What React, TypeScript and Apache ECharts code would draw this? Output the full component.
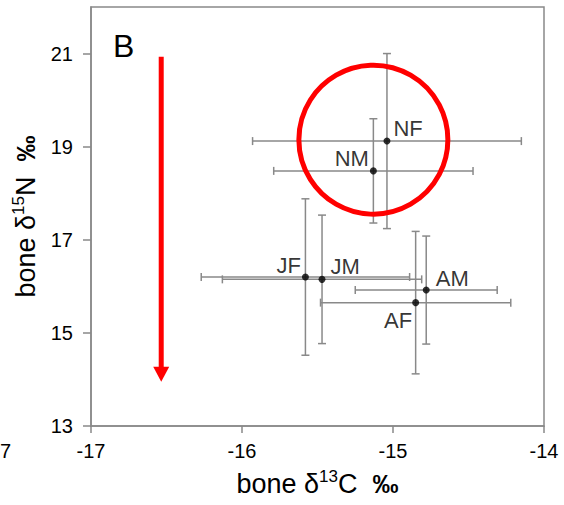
import React, { useEffect, useRef } from "react";
import * as echarts from "echarts";

// ---- data ----
const groupNames = ["NF", "NM", "JF", "JM", "AM", "AF"];
const carbonMean = [-15.04, -15.13, -15.58, -15.47, -14.78, -14.85];
const nitrogenMean = [19.12, 18.48, 16.2, 16.15, 15.92, 15.65];
const carbonSd = [0.89, 0.66, 0.69, 0.66, 0.47, 0.63];
const nitrogenSd = [1.88, 1.12, 1.68, 1.38, 1.16, 1.53];

const xTicks = [-17, -16, -15, -14];
const yTicks = [13, 15, 17, 19, 21];

// annotation anchors (data coords)
const highlightCenter = [-15.13, 19.15];
const arrowX = [-16.535];
const arrowFromTo = [20.93, 13.95];

// label placement per group (presentation only)
const labelPlacement: Record<string, { position: string; offset: number[] }> = {
  NF: { position: "right", offset: [-2, -13] },
  NM: { position: "left", offset: [4, -12] },
  JF: { position: "left", offset: [4, -12] },
  JM: { position: "right", offset: [0, -13] },
  AM: { position: "right", offset: [1, -12] },
  AF: { position: "left", offset: [5, 18] },
};

const FONT = "'Liberation Sans', Arial, sans-serif";
const GREY = "#898989";

export default function App() {
  const ref = useRef<HTMLDivElement>(null);

  useEffect(() => {
    if (!ref.current) return;
    const chart = echarts.init(ref.current, undefined, { renderer: "svg" });

    const errData = groupNames.map((n, i) => [carbonMean[i], nitrogenMean[i], carbonSd[i], nitrogenSd[i]]);
    const pointData = groupNames.map((n, i) => ({
      name: n,
      value: [carbonMean[i], nitrogenMean[i]],
      label: {
        show: true,
        formatter: n,
        position: labelPlacement[n].position,
        offset: labelPlacement[n].offset,
      },
    }));

    const titleRich = () => ({
      a: { fontSize: 27, fontFamily: FONT, color: "#000", lineHeight: 32 },
      s: { fontSize: 17, fontFamily: FONT, color: "#000", lineHeight: 25, verticalAlign: "top" },
      b: { fontSize: 26, fontFamily: FONT, color: "#000", fontWeight: "bold", lineHeight: 32 },
    });

    const option: any = {
      animation: false,
      backgroundColor: "#fff",
      grid: {
        left: 91,
        right: 20,
        top: 7,
        bottom: 79,
        show: true,
        borderColor: GREY,
        borderWidth: 1.5,
        containLabel: false,
      },
      xAxis: {
        type: "value",
        min: -17,
        max: -14,
        interval: 1,
        splitLine: { show: false },
        axisLine: { show: true, lineStyle: { color: GREY, width: 1.5 } },
        axisTick: { show: true, length: 7, lineStyle: { color: GREY, width: 1.5 }, customValues: xTicks },
        axisLabel: {
          customValues: xTicks,
          color: "#000",
          fontSize: 20,
          fontFamily: FONT,
          margin: 15,
        },
        name: "{a|bone δ}{s|13}{a|C  }{b|‰}",
        nameLocation: "middle",
        nameGap: 42,
        nameTextStyle: { rich: titleRich() },
      },
      yAxis: {
        type: "value",
        min: 13,
        max: 22,
        interval: 1,
        splitLine: { show: false },
        axisLine: { show: true, lineStyle: { color: GREY, width: 1.5 } },
        axisTick: { show: true, length: 8, lineStyle: { color: GREY, width: 1.5 }, customValues: yTicks },
        axisLabel: {
          customValues: yTicks,
          color: "#000",
          fontSize: 20,
          fontFamily: FONT,
          margin: 18,
        },
        name: "{a|bone δ}{s|15}{a|N  }{b|‰}",
        nameLocation: "middle",
        nameRotate: 90,
        nameGap: 33,
        nameTextStyle: { rich: titleRich() },
      },
      graphic: [
        {
          type: "text",
          left: 113,
          top: 30,
          style: { text: "B", fontSize: 32, fontFamily: FONT, fill: "#000" },
        },
        {
          type: "text",
          x: 0,
          y: 451,
          style: { text: "7", fontSize: 20, fontFamily: FONT, fill: "#000", align: "left", verticalAlign: "middle" },
        },
      ],
      series: [
        {
          type: "custom",
          name: "sd",
          z: 1,
          data: errData,
          encode: { x: 0, y: 1 },
          renderItem: (params: any, api: any) => {
            const x = api.value(0);
            const y = api.value(1);
            const ex = api.value(2);
            const ey = api.value(3);
            const l = api.coord([x - ex, y]);
            const r = api.coord([x + ex, y]);
            const t = api.coord([x, y + ey]);
            const b = api.coord([x, y - ey]);
            const c = 4;
            const style = { stroke: GREY, lineWidth: 1.5 };
            const ln = (x1: number, y1: number, x2: number, y2: number) => ({
              type: "line",
              shape: { x1, y1, x2, y2 },
              style,
            });
            return {
              type: "group",
              children: [
                ln(l[0], l[1], r[0], r[1]),
                ln(l[0], l[1] - c, l[0], l[1] + c),
                ln(r[0], r[1] - c, r[0], r[1] + c),
                ln(t[0], t[1], b[0], b[1]),
                ln(t[0] - c, t[1], t[0] + c, t[1]),
                ln(b[0] - c, b[1], b[0] + c, b[1]),
              ],
            };
          },
        },
        {
          type: "custom",
          name: "highlight",
          z: 2,
          data: [highlightCenter],
          encode: { x: 0, y: 1 },
          renderItem: (params: any, api: any) => {
            const p = api.coord([api.value(0), api.value(1)]);
            return {
              type: "circle",
              shape: { cx: p[0], cy: p[1], r: 74.5 },
              style: { fill: "none", stroke: "#ff0000", lineWidth: 5 },
            };
          },
        },
        {
          type: "custom",
          name: "arrow",
          z: 2,
          data: [[arrowX[0], arrowFromTo[0], arrowFromTo[1]]],
          encode: { x: 0, y: [1, 2] },
          renderItem: (params: any, api: any) => {
            const p1 = api.coord([api.value(0), api.value(1)]);
            const p2 = api.coord([api.value(0), api.value(2)]);
            const hh = 15;
            const hw = 8;
            return {
              type: "group",
              children: [
                {
                  type: "line",
                  shape: { x1: p1[0], y1: p1[1], x2: p2[0], y2: p2[1] - hh + 1 },
                  style: { stroke: "#ff0000", lineWidth: 5 },
                },
                {
                  type: "polygon",
                  shape: {
                    points: [
                      [p2[0] - hw, p2[1] - hh],
                      [p2[0] + hw, p2[1] - hh],
                      [p2[0], p2[1]],
                    ],
                  },
                  style: { fill: "#ff0000" },
                },
              ],
            };
          },
        },
        {
          type: "scatter",
          name: "groups",
          z: 3,
          symbol: "circle",
          symbolSize: 7,
          itemStyle: { color: "#000" },
          label: { color: "#000", fontSize: 22, fontFamily: FONT },
          data: pointData,
        },
      ],
    };

    chart.setOption(option);
    return () => chart.dispose();
  }, []);

  return (
    <div
      ref={ref}
      style={{ position: "fixed", left: 0, top: 0, width: 564, height: 505, background: "#fff" }}
    />
  );
}
